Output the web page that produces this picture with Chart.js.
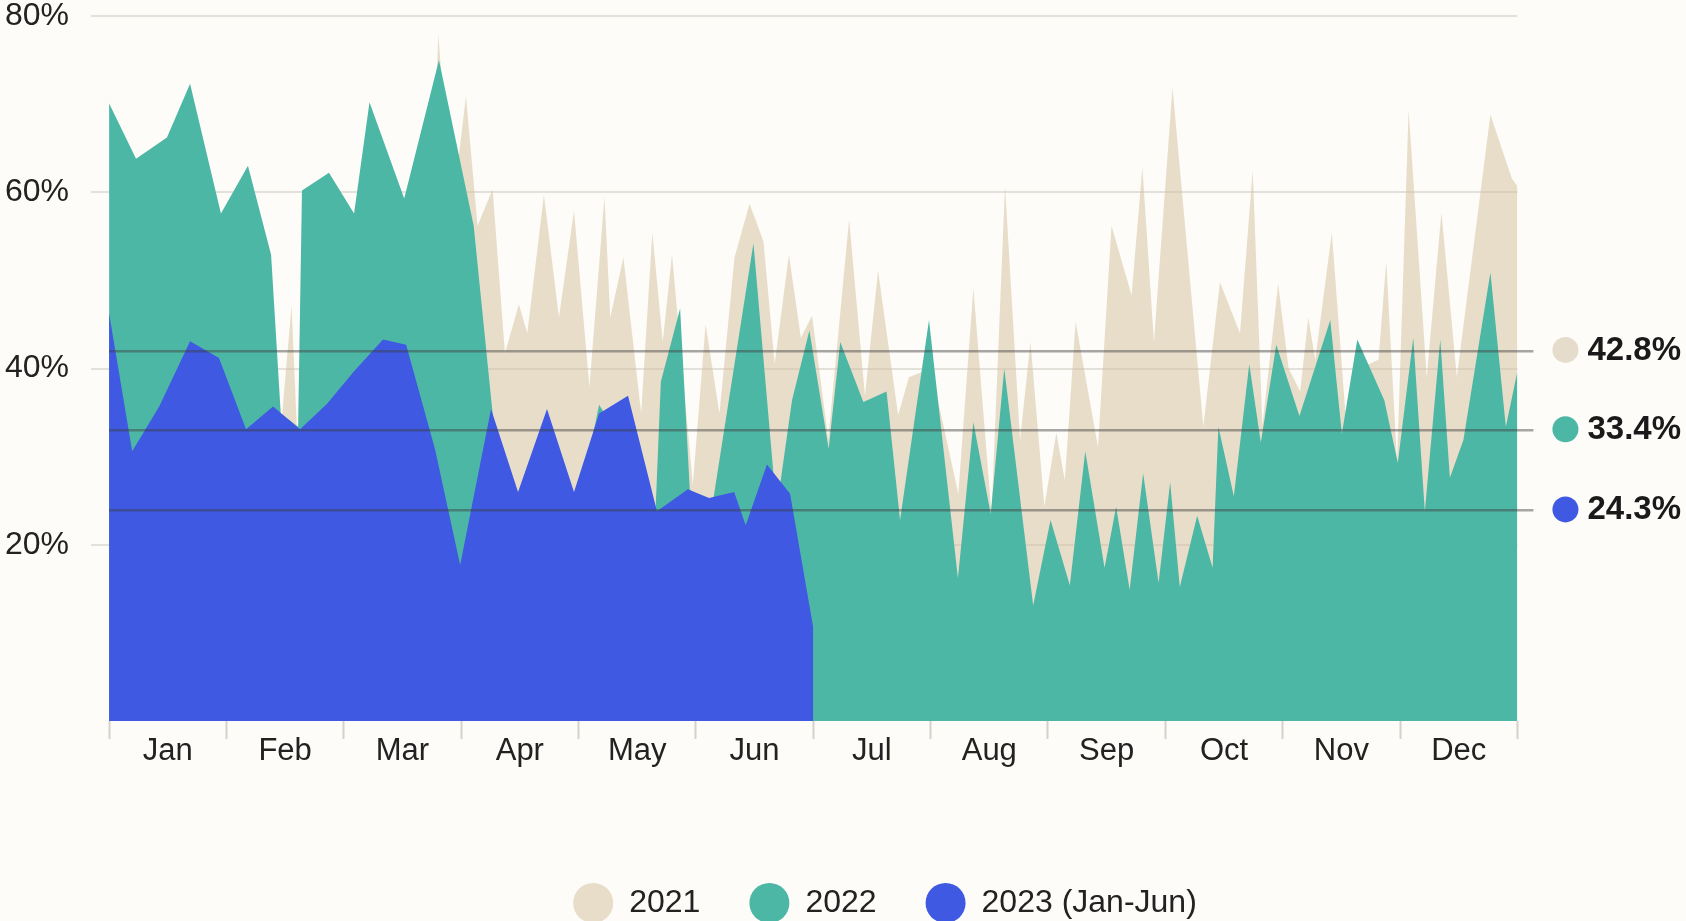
<!DOCTYPE html>
<html>
<head>
    <title>Weekly share, 2021-2023</title>
    <script src="https://cdn.jsdelivr.net/npm/chart.js@4.4.1/dist/chart.umd.min.js"></script>
    <style>
        html, body {
            margin: 0;
            padding: 0;
            background: #fdfcf8;
        }
        .chart-container {
            position: relative;
            width: 1686px;
            height: 921px;
        }
    </style>
</head>
<body>
    <div class="chart-container">
        <canvas id="shareChart"></canvas>
    </div>

    <script>
        const months = ['Jan', 'Feb', 'Mar', 'Apr', 'May', 'Jun', 'Jul', 'Aug', 'Sep', 'Oct', 'Nov', 'Dec'];
        const yTicks = [20, 40, 60, 80];

        // x = day of year, y = share in %
        const days2021 = [0, 3.5, 7, 10.5, 14, 17.5, 21, 24.5, 28, 31.5, 35, 38.5, 42, 44.5, 47.3, 49, 52.5, 56, 59.5, 63,
            66.5, 70, 73.5, 77, 80.5, 84, 85.3, 89, 92.5, 95.5, 99.4, 102.6, 106.2, 108.4, 112.7, 116.6, 120.5, 124.5, 128.4, 129.9,
            133.3, 137.9, 140.8, 143.5, 145.9, 151.3, 154.6, 158.2, 162.1, 166, 169.6, 172.5, 176.2, 179.3, 182.2, 186.4, 191.8, 195.9, 199.3, 204.5,
            207.3, 213, 220.1, 224, 228.7, 232.2, 236.1, 238.8, 242.4, 245.5, 247.7, 250.5, 256.3, 259.8, 265, 267.8, 270.8, 275.6, 283.6, 287.9,
            293.1, 296.4, 298.9, 303, 305.7, 308.7, 310.8, 312.6, 316.9, 320.4, 324, 329, 331, 333.8, 336.8, 341.5, 345.3, 349.3, 358, 363.6, 365];
        const share2021 = [45, 52, 44, 50, 42, 55, 47, 50, 43, 52, 45, 50, 40, 33, 47.1, 30, 50, 44, 52, 46,
            55, 48, 52, 45, 56, 60, 77.9, 58, 70.9, 56.2, 60.3, 41.7, 47.3, 44.0, 59.7, 45.8, 57.9, 37.9, 59.5, 45.8,
            52.6, 34.9, 55.4, 43.0, 52.9, 26.8, 45.0, 34.9, 52.6, 58.7, 54.4, 40.5, 52.9, 43.5, 46, 32, 56.9, 36.9, 51.1, 34.7,
            39.0, 40, 25.8, 49.1, 23.5, 60.7, 31.9, 43.0, 24.3, 32.7, 27.3, 45.3, 31.1, 56.2, 48.3, 62.8, 43.0, 71.9, 33.4, 49.8,
            44.0, 62.5, 33.5, 49.6, 40, 37.4, 45.8, 41, 55.4, 35, 40, 41, 52.1, 29.3, 69.3, 39, 57.7, 39, 68.8, 61.5, 60.7];

        const days2022 = [0, 7, 15, 21, 29, 36, 42, 44.5, 49, 50, 57, 63.5, 67.5, 76.5, 85.5, 94.5, 101, 108, 115, 121,
            127, 134, 141.5, 143, 148, 150.5, 156, 167, 173, 177, 181.5, 186.5, 189.5, 195.5, 201.5, 205, 212.5, 220, 224, 228.5,
            232, 239.5, 244, 249, 253, 258, 261, 264.5, 268, 272, 275, 277.5, 282, 286, 287.5, 291.5, 295.5, 298.5, 302.5, 308.5,
            316.5, 319.5, 323.5, 330.5, 334, 338, 341, 345, 347.5, 351, 358, 362, 365];
        const share2022 = [70.1, 63.8, 66.2, 72.3, 57.6, 63.0, 52.9, 34.9, 33.4, 60.2, 62.2, 57.6, 70.2, 59.3, 75.0, 56.2, 28, 23, 25, 23,
            35.9, 31, 22.5, 38.5, 46.8, 26.3, 23.5, 54.2, 24, 36.4, 44.3, 30.9, 43.0, 36.2, 37.4, 22.8, 45.5, 16.2, 33.9, 23.5,
            40.0, 13.1, 22.8, 15.4, 30.6, 17.4, 24.3, 14.9, 28.1, 15.7, 27.1, 15.2, 23.3, 17.4, 33.4, 25.5, 40.5, 31.6, 42.7, 34.6,
            45.5, 32.6, 43.3, 36.4, 29.3, 43.5, 23.8, 43.3, 27.6, 31.9, 50.9, 33.4, 39.7];

        const days2023 = [0, 6, 13, 21, 28.5, 35.5, 42.5, 49.5, 56.5, 63.5, 71, 77, 84.5, 91, 99, 106, 113.5, 120.5, 127, 134.5,
            142, 150, 155.5, 162, 165, 170.5, 176.5, 182.5];
        const share2023 = [46.3, 30.6, 35.7, 43.1, 41.2, 33.1, 35.7, 33.1, 36.0, 39.7, 43.3, 42.7, 30.8, 17.7, 35.4, 26.0, 35.4, 26.0, 34.9, 36.9,
            23.8, 26.3, 25.3, 26.0, 22.2, 29.1, 25.8, 10.6];

        // average lines (as drawn) and their labels
        const avgLevels = [42.0, 33.0, 23.9];
        const avgLabels = ['42.8%', '33.4%', '24.3%'];

        const beige = 'rgba(213, 194, 162, 0.55)';
        const teal = '#4db7a5';
        const blue = '#3f59e2';
        const avgColors = ['#e6dccb', teal, blue];

        const toPoints = (xs, ys) => xs.map((x, i) => ({ x: x, y: ys[i] }));

        const monthWidth = 365 / 12;
        const xTickValues = [];
        for (let m = 0; m <= 12; m++) {
            xTickValues.push(m * monthWidth);
            if (m < 12) xTickValues.push((m + 0.5) * monthWidth);
        }

        // Chart.js counts tick padding twice on an axis and adds it above/below the plot;
        // keep only the visible gap
        const trimVerticalAxis = axis => {
            axis.width -= axis.options.ticks.padding;
            axis.paddingTop = 0;
            axis.paddingBottom = 0;
        };

        Chart.defaults.font.family = "'Liberation Sans', Arial, sans-serif";
        Chart.defaults.color = '#222';

        const avgMarkers = {
            id: 'avgMarkers',
            afterDraw(chart) {
                const { ctx, chartArea, scales } = chart;
                avgLevels.forEach((v, i) => {
                    ctx.save();
                    ctx.beginPath();
                    ctx.arc(chartArea.right + 48, scales.yAvg.getPixelForValue(v) - 1, 13, 0, Math.PI * 2);
                    ctx.fillStyle = avgColors[i];
                    ctx.fill();
                    ctx.restore();
                });
            }
        };

        // the legend sits a bit right of centre in the original
        const legendNudge = {
            id: 'legendNudge',
            afterLayout(chart) {
                chart.legend.left += 42;
                chart.legend.right += 42;
            }
        };

        const ctx = document.getElementById('shareChart').getContext('2d');
        new Chart(ctx, {
            type: 'line',
            data: {
                datasets: [{
                    label: '2021',
                    data: toPoints(days2021, share2021),
                    backgroundColor: beige,
                    borderColor: 'transparent',
                    fill: 'origin',
                    order: 3
                }, {
                    label: '2022',
                    data: toPoints(days2022, share2022),
                    backgroundColor: teal,
                    borderColor: 'transparent',
                    fill: 'origin',
                    order: 2
                }, {
                    label: '2023 (Jan-Jun)',
                    data: toPoints(days2023, share2023),
                    backgroundColor: blue,
                    borderColor: 'transparent',
                    fill: 'origin',
                    order: 1
                }]
            },
            options: {
                responsive: true,
                maintainAspectRatio: false,
                animation: false,
                elements: {
                    point: { radius: 0, hoverRadius: 0 },
                    line: { borderWidth: 0, tension: 0 }
                },
                layout: {
                    padding: { left: 5, right: 5, top: 16, bottom: -8 }
                },
                scales: {
                    x: {
                        type: 'linear',
                        min: 0,
                        max: 365,
                        afterBuildTicks: axis => { axis.ticks = xTickValues.map(v => ({ value: v })); },
                        afterFit: axis => { axis.height += 74; },
                        border: { display: false },
                        grid: {
                            drawOnChartArea: false,
                            tickLength: 18,
                            tickWidth: 2,
                            tickColor: c => (c.index % 2 ? 'transparent' : '#d6d2cb')
                        },
                        ticks: {
                            autoSkip: false,
                            maxRotation: 0,
                            padding: -3,
                            font: { size: 31, lineHeight: 1 },
                            callback: (v, i) => (i % 2 ? months[(i - 1) / 2] : '')
                        }
                    },
                    y: {
                        min: 0,
                        max: 80,
                        afterBuildTicks: axis => { axis.ticks = yTicks.map(v => ({ value: v })); },
                        afterFit: trimVerticalAxis,
                        border: { display: false },
                        grid: {
                            color: '#e4e1db',
                            lineWidth: 2,
                            tickLength: 18
                        },
                        ticks: {
                            padding: 22,
                            font: { size: 32, lineHeight: 1 },
                            callback: v => v + '%'
                        }
                    },
                    yAvg: {
                        position: 'right',
                        min: 0,
                        max: 80,
                        afterBuildTicks: axis => { axis.ticks = avgLevels.map(v => ({ value: v })); },
                        afterFit: trimVerticalAxis,
                        border: { display: false },
                        grid: {
                            z: 1,
                            color: 'rgba(60, 60, 60, 0.45)',
                            lineWidth: 2.5,
                            tickLength: 16
                        },
                        ticks: {
                            padding: 54,
                            color: '#1a1a1a',
                            font: { size: 33, weight: 'bold', lineHeight: 1 },
                            callback: (v, i) => avgLabels[i]
                        }
                    }
                },
                plugins: {
                    tooltip: { enabled: false },
                    legend: {
                        position: 'bottom',
                        labels: {
                            usePointStyle: true,
                            pointStyle: 'circle',
                            boxHeight: 28.3,
                            pointStyleWidth: 40,
                            padding: 49,
                            color: '#222',
                            font: { size: 32 },
                            sort: (a, b) => a.datasetIndex - b.datasetIndex
                        }
                    }
                }
            },
            plugins: [avgMarkers, legendNudge]
        });
    </script>
</body>
</html>
